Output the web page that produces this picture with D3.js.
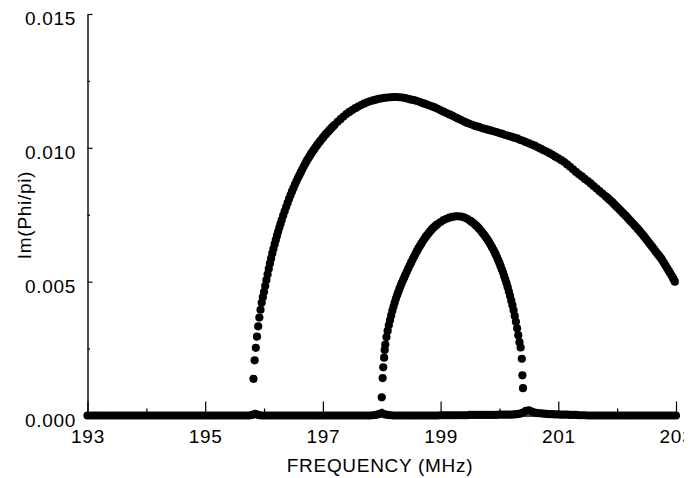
<!DOCTYPE html>
<html>
<head>
<meta charset="utf-8">
<script src="https://cdn.jsdelivr.net/npm/d3@7"></script>
<style>
  html, body { margin: 0; padding: 0; background: #fff; }
  svg { display: block; }
  text { font-family: "Liberation Sans", Arial, Helvetica, sans-serif; fill: #000; }
</style>
</head>
<body>
<svg id="chart" width="697" height="478"></svg>
<script>
// ---------- data ----------
// Upper branch
const freqA = [
195.82,195.84,195.86,195.88,195.90,195.92,195.94,195.96,195.98,196.00,
196.02,196.04,196.06,196.08,196.10,196.12,196.14,196.16,196.18,196.20,
196.22,196.24,196.26,196.28,196.30,196.325,196.35,196.375,196.40,196.425,
196.45,196.475,196.50,196.525,196.55,196.575,196.60,196.625,196.65,196.675,
196.70,196.725,196.75,196.775,196.80,196.825,196.85,196.875,196.90,196.925,
196.95,196.975,197.00,197.025,197.05,197.075,197.10,197.125,197.15,197.175,
197.20,197.25,197.30,197.35,197.40,197.45,197.50,197.55,197.60,197.65,
197.70,197.75,197.80,197.85,197.90,197.95,198.00,198.05,198.10,198.15,
198.20,198.25,198.30,198.35,198.40,198.45,198.50,198.55,198.60,198.65,
198.70,198.75,198.80,198.85,198.90,198.95,199.00,199.05,199.10,199.15,
199.20,199.25,199.30,199.35,199.40,199.45,199.50,199.55,199.60,199.65,
199.70,199.75,199.80,199.85,199.90,199.95,200.00,200.05,200.10,200.15,
200.20,200.25,200.30,200.35,200.40,200.45,200.50,200.55,200.60,200.65,
200.70,200.75,200.80,200.85,200.90,200.95,201.00,201.05,201.10,201.15,
201.20,201.25,201.30,201.35,201.40,201.45,201.50,201.55,201.60,201.65,
201.70,201.75,201.80,201.825,201.85,201.875,201.90,201.925,201.95,201.975,
202.00,202.025,202.05,202.075,202.10,202.125,202.15,202.175,202.20,202.225,
202.25,202.275,202.30,202.325,202.35,202.375,202.40,202.425,202.45,202.475,
202.50,202.525,202.55,202.575,202.60,202.625,202.65,202.675,202.70,202.725,
202.75,202.775,202.80,202.825,202.85,202.875,202.90,202.925,202.95,202.965,
202.98
];
const imA = [
0.00137,0.00206,0.00253,0.00295,0.00333,0.00366,0.00395,0.00421,0.00442,0.00462,
0.00484,0.00506,0.00527,0.00548,0.00568,0.00587,0.00606,0.00623,0.00640,0.00656,
0.00672,0.00687,0.00702,0.00716,0.00730,0.00747,0.00763,0.00779,0.00794,0.00809,
0.00823,0.00837,0.00850,0.00863,0.00875,0.00887,0.00898,0.00909,0.00920,0.00931,
0.00941,0.00951,0.00960,0.00969,0.00978,0.00986,0.00994,0.01002,0.01010,0.01017,
0.01024,0.01031,0.01038,0.01045,0.01051,0.01057,0.01063,0.01069,0.01075,0.01081,
0.01086,0.01097,0.01107,0.01117,0.01126,0.01134,0.01141,0.01148,0.01154,0.01160,
0.01165,0.01170,0.01174,0.01177,0.01180,0.01183,0.01185,0.01187,0.01188,0.01189,
0.01190,0.01190,0.01189,0.01188,0.01186,0.01183,0.01180,0.01178,0.01175,0.01171,
0.01167,0.01163,0.01159,0.01155,0.01151,0.01146,0.01140,0.01135,0.01130,0.01125,
0.01120,0.01114,0.01109,0.01104,0.01098,0.01093,0.01089,0.01085,0.01081,0.01078,
0.01074,0.01071,0.01068,0.01065,0.01062,0.01059,0.01055,0.01052,0.01048,0.01045,
0.01042,0.01038,0.01035,0.01030,0.01026,0.01021,0.01017,0.01012,0.01008,0.01002,
0.00997,0.00991,0.00986,0.00980,0.00974,0.00967,0.00961,0.00954,0.00947,0.00938,
0.00929,0.00920,0.00910,0.00901,0.00893,0.00884,0.00876,0.00867,0.00857,0.00848,
0.00838,0.00829,0.00820,0.00815,0.00810,0.00805,0.00800,0.00795,0.00789,0.00784,
0.00778,0.00773,0.00767,0.00762,0.00756,0.00751,0.00745,0.00739,0.00733,0.00727,
0.00721,0.00715,0.00709,0.00703,0.00697,0.00691,0.00684,0.00678,0.00671,0.00664,
0.00657,0.00650,0.00643,0.00636,0.00629,0.00622,0.00614,0.00607,0.00600,0.00593,
0.00586,0.00577,0.00568,0.00559,0.00550,0.00541,0.00532,0.00523,0.00513,0.00507,
0.00500
];

// Inner arc
const freqB = [
198.00,198.015,198.025,198.04,198.05,198.06,198.08,198.10,198.12,198.14,
198.16,198.18,198.20,198.22,198.24,198.26,198.28,198.30,198.32,198.34,
198.36,198.38,198.40,198.425,198.45,198.475,198.50,198.525,198.55,198.575,
198.60,198.625,198.65,198.675,198.70,198.725,198.75,198.775,198.80,198.825,
198.85,198.875,198.90,198.925,198.95,199.00,199.05,199.10,199.15,199.20,
199.25,199.30,199.35,199.40,199.45,199.50,199.525,199.55,199.575,199.60,
199.625,199.65,199.675,199.70,199.725,199.75,199.775,199.80,199.825,199.85,
199.875,199.90,199.92,199.94,199.96,199.98,200.00,200.02,200.04,200.06,
200.08,200.10,200.12,200.14,200.16,200.18,200.20,200.22,200.24,200.26,
200.28,200.30,200.32,200.34,200.36,200.38,200.39,200.40
];
const imB = [
0.00068,0.00140,0.00180,0.00216,0.00245,0.00265,0.00293,0.00316,0.00337,0.00356,
0.00374,0.00391,0.00407,0.00422,0.00436,0.00449,0.00461,0.00473,0.00484,0.00495,
0.00505,0.00515,0.00525,0.00537,0.00549,0.00561,0.00572,0.00583,0.00594,0.00605,
0.00615,0.00625,0.00634,0.00643,0.00652,0.00660,0.00668,0.00675,0.00682,0.00689,
0.00695,0.00701,0.00706,0.00711,0.00715,0.00723,0.00730,0.00735,0.00739,0.00742,
0.00744,0.00744,0.00743,0.00740,0.00735,0.00728,0.00724,0.00720,0.00715,0.00710,
0.00705,0.00699,0.00693,0.00686,0.00679,0.00672,0.00664,0.00656,0.00647,0.00638,
0.00628,0.00618,0.00609,0.00600,0.00590,0.00580,0.00569,0.00558,0.00546,0.00534,
0.00521,0.00508,0.00494,0.00479,0.00463,0.00447,0.00430,0.00412,0.00393,0.00372,
0.00350,0.00326,0.00300,0.00274,0.00254,0.00212,0.00150,0.00102
];

// Near-zero branch
const freqC = [
193.00,193.05,193.10,193.15,193.20,193.25,193.30,193.35,193.40,193.45,
193.50,193.55,193.60,193.65,193.70,193.75,193.80,193.85,193.90,193.95,
194.00,194.05,194.10,194.15,194.20,194.25,194.30,194.35,194.40,194.45,
194.50,194.55,194.60,194.65,194.70,194.75,194.80,194.85,194.90,194.95,
195.00,195.05,195.10,195.15,195.20,195.25,195.30,195.35,195.40,195.45,
195.50,195.55,195.60,195.65,195.70,195.75,195.80,195.85,195.90,195.95,
196.00,196.05,196.10,196.15,196.20,196.25,196.30,196.35,196.40,196.45,
196.50,196.55,196.60,196.65,196.70,196.75,196.80,196.85,196.90,196.95,
197.00,197.05,197.10,197.15,197.20,197.25,197.30,197.35,197.40,197.45,
197.50,197.55,197.60,197.65,197.70,197.75,197.80,197.85,197.90,197.95,
198.00,198.05,198.10,198.15,198.20,198.25,198.30,198.35,198.40,198.45,
198.50,198.55,198.60,198.65,198.70,198.75,198.80,198.85,198.90,198.95,
199.00,199.05,199.10,199.15,199.20,199.25,199.30,199.35,199.40,199.45,
199.50,199.55,199.60,199.65,199.70,199.75,199.80,199.85,199.90,199.95,
200.00,200.05,200.10,200.15,200.20,200.25,200.30,200.35,200.40,200.45,
200.50,200.55,200.60,200.65,200.70,200.75,200.80,200.85,200.90,200.95,
201.00,201.05,201.10,201.15,201.20,201.25,201.30,201.35,201.40,201.45,
201.50,201.55,201.60,201.65,201.70,201.75,201.80,201.85,201.90,201.95,
202.00,202.05,202.10,202.15,202.20,202.25,202.30,202.35,202.40,202.45,
202.50,202.55,202.60,202.65,202.70,202.75,202.80,202.85,202.90,202.95,
203.00
];
const imC = [
0,0,0,0,0,0,0,0,0,0,
0,0,0,0,0,0,0,0,0,0,
0,0,0,0,0,0,0,0,0,0,
0,0,0,0,0,0,0,0,0,0,
0,0,0,0,0,0,0,0,0,0,
0,0,0,0,0,0,0.00002,0.00006,0.00002,0,
0,0,0,0,0,0,0,0,0,0,
0,0,0,0,0,0,0,0,0,0,
0,0,0,0,0,0,0,0,0,0,
0,0,0,0,0,0,0,0.00001,0.00002,0.00005,
0.00009,0.00004,0.00002,0.00001,0,0,0,0,0,0,
0,0,0,0,0,0,0,0,0,0,
0.00001,0.00001,0.00001,0.00001,0.00001,0.00001,0.00001,0.00001,0.00001,0.00001,
0.00002,0.00002,0.00002,0.00002,0.00002,0.00002,0.00002,0.00002,0.00002,0.00002,
0.00003,0.00003,0.00003,0.00003,0.00003,0.00004,0.00005,0.00007,0.00011,0.00017,
0.00019,0.00015,0.00011,0.00009,0.00008,0.00007,0.00006,0.00005,0.00005,0.00004,
0.00004,0.00003,0.00003,0.00003,0.00002,0.00002,0.00002,0.00001,0.00001,0.00001,
0,0,0,0,0,0,0,0,0,0,
0,0,0,0,0,0,0,0,0,0,
0,0,0,0,0,0,0,0,0,0,
0
];

const xMajorTicks = [193, 195, 197, 199, 201, 203];
const xMinorTicks = [194, 196, 198, 200, 202];
const yMajorTicks = [0, 0.005, 0.010, 0.015];
const yMinorTicks = [0.0025, 0.0075, 0.0125];
const xTitle = "FREQUENCY (MHz)";
const yTitle = "Im(Phi/pi)";

// ---------- drawing ----------
const svg = d3.select("#chart");
svg.append("rect").attr("width", 697).attr("height", 478).attr("fill", "#fff");

svg.append("clipPath").attr("id", "frame")
  .append("rect").attr("x", 0).attr("y", 0).attr("width", 684).attr("height", 478);

const g = svg.append("g").attr("clip-path", "url(#frame)");

const x = d3.scaleLinear().domain([193, 203]).range([87.5, 676]);
const y = d3.scaleLinear().domain([0, 0.015]).range([415.5, 14]);

const FS = 19;
const LS = "0.7px";

// x axis: major (labelled) + minor
const xAxisMajor = d3.axisBottom(x).tickValues(xMajorTicks)
  .tickSizeInner(-14).tickSizeOuter(0).tickPadding(14)
  .tickFormat(d3.format("d"));
const gx = g.append("g").attr("transform", `translate(0,${y(0)})`).call(xAxisMajor);
const gxm = g.append("g").attr("transform", `translate(0,${y(0)})`)
  .call(d3.axisBottom(x).tickValues(xMinorTicks).tickSizeInner(-7).tickSizeOuter(0).tickFormat(""));
gxm.select(".domain").remove();

// y axis
const yAxisMajor = d3.axisLeft(y).tickValues(yMajorTicks)
  .tickSizeInner(-5).tickSizeOuter(0).tickPadding(11.5)
  .tickFormat(d3.format(".3f"));
const gy = g.append("g").attr("transform", `translate(${x(193)},0)`).call(yAxisMajor);
const gym = g.append("g").attr("transform", `translate(${x(193)},0)`)
  .call(d3.axisLeft(y).tickValues(yMinorTicks).tickSizeInner(-2.5).tickSizeOuter(0).tickFormat(""));
gym.select(".domain").remove();

[gx, gxm, gy, gym].forEach(a => {
  a.selectAll(".domain").attr("stroke", "#000").attr("stroke-width", 1.4);
  a.selectAll(".tick line").attr("stroke", "#000").attr("stroke-width", 1.2);
  a.selectAll("text").attr("font-size", FS).attr("font-family", null)
    .attr("fill", "#000").style("letter-spacing", LS);
});
gy.selectAll(".tick text").attr("dy", "0.57em");

// axis titles
g.append("text").attr("x", 380).attr("y", 472).attr("text-anchor", "middle")
  .attr("font-size", FS).style("letter-spacing", LS).text(xTitle);
g.append("text").attr("transform", "translate(31,215) rotate(-90)")
  .attr("text-anchor", "middle").attr("font-size", FS).style("letter-spacing", LS).text(yTitle);

// points
const R = 4.1;
const series = [d3.zip(freqC, imC), d3.zip(freqA, imA), d3.zip(freqB, imB)];
series.forEach(data => {
  g.append("g").selectAll("circle").data(data).join("circle")
    .attr("cx", d => x(d[0])).attr("cy", d => y(d[1]))
    .attr("r", R).attr("fill", "#000");
});
</script>
</body>
</html>
